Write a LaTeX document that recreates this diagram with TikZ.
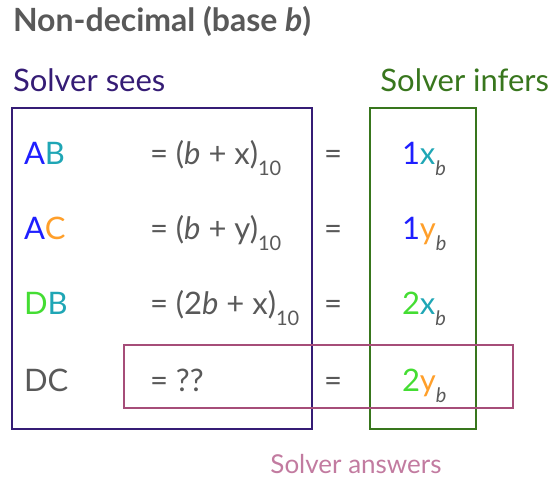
\documentclass[tikz,border=0pt]{standalone}
\usepackage{fontspec}
\setmainfont{Lato}
\definecolor{txtgray}{HTML}{595959}
\definecolor{seepurple}{HTML}{351C75}
\definecolor{infgreen}{HTML}{38761D}
\definecolor{anspink}{HTML}{A64D79}
\definecolor{anslight}{HTML}{C27BA0}
\definecolor{cA}{HTML}{1F1FFF}
\definecolor{cB}{HTML}{1FA6B5}
\definecolor{cC}{HTML}{FF9F2A}
\definecolor{cD}{HTML}{44DD33}
\newcommand{\sub}[1]{\raisebox{-11pt}{\fontsize{20}{24}\selectfont\color{txtgray}#1}}
\begin{document}
\begin{tikzpicture}[x=1pt,y=-1pt,
  txt/.style={inner sep=0pt,outer sep=0pt,font=\fontsize{31}{36}\selectfont,text=txtgray},
  frame/.style={line width=2.2pt}]
\useasboundingbox (0,0) rectangle (556,480);
\node[txt,anchor=west,font=\fontsize{32}{36}\selectfont\bfseries] (title) at (13,21) {Non-decimal (base \textit{b})};
\node[txt,anchor=west,text=seepurple] (sees) at (13,80) {Solver sees};
\node[txt,anchor=east,text=infgreen] (infers) at (549,80) {Solver infers};
% boxes
\draw[frame,seepurple] (12,108) rectangle (312,429);
\draw[frame,infgreen] (370,108) rectangle (476,429);
\draw[frame,anspink] (124,345) rectangle (513,408);
\node[txt,text=anslight,font=\fontsize{26}{30}\selectfont] (ans) at (356,464) {Solver answers};
% rows
\node[txt,anchor=base west] (l1) at (24,164) {\textcolor{cA}{A}\textcolor{cB}{B}};
\node[txt,anchor=base west] (l2) at (24,239) {\textcolor{cA}{A}\textcolor{cC}{C}};
\node[txt,anchor=base west] (l3) at (24,314) {\textcolor{cD}{D}\textcolor{cB}{B}};
\node[txt,anchor=base west] (l4) at (24,391) {DC};
\node[txt,anchor=base west] (e1) at (150,164) {= (\textit{b} + x)\sub{10}};
\node[txt,anchor=base west] (e2) at (150,239) {= (\textit{b} + y)\sub{10}};
\node[txt,anchor=base west] (e3) at (150,314) {= (2\textit{b} + x)\sub{10}};
\node[txt,anchor=base west] (e4) at (150,391) {= ??};
\node[txt,anchor=base] (q1) at (333,164) {=};
\node[txt,anchor=base] (q2) at (333,239) {=};
\node[txt,anchor=base] (q3) at (333,314) {=};
\node[txt,anchor=base] (q4) at (333,391) {=};
\node[txt,anchor=base west] (r1) at (402,164) {\textcolor{cA}{1}\textcolor{cB}{x}\sub{\textit{b}}};
\node[txt,anchor=base west] (r2) at (402,239) {\textcolor{cA}{1}\textcolor{cC}{y}\sub{\textit{b}}};
\node[txt,anchor=base west] (r3) at (402,314) {\textcolor{cD}{2}\textcolor{cB}{x}\sub{\textit{b}}};
\node[txt,anchor=base west] (r4) at (402,391) {\textcolor{cD}{2}\textcolor{cC}{y}\sub{\textit{b}}};
\end{tikzpicture}
\end{document}
